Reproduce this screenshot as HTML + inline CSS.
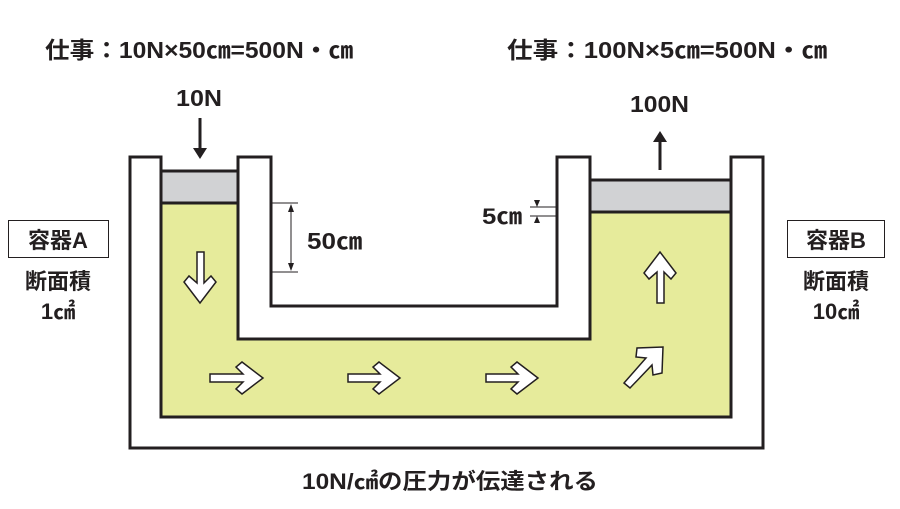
<!DOCTYPE html>
<html><head><meta charset="utf-8"><style>
html,body{margin:0;padding:0;background:#fff;}
svg{display:block;}
text{font-family:"Liberation Sans","Noto Sans CJK JP",sans-serif;font-weight:bold;fill:#231f20;}
</style></head><body>
<svg width="900" height="509" viewBox="0 0 900 509" xmlns="http://www.w3.org/2000/svg">
<!-- top labels -->
<text x="45" y="58" font-size="23" textLength="308" lengthAdjust="spacingAndGlyphs">仕事：10N×50㎝=500N・㎝</text>
<text x="507" y="58" font-size="23" textLength="320" lengthAdjust="spacingAndGlyphs">仕事：100N×5㎝=500N・㎝</text>
<text x="176" y="106" font-size="23" textLength="46" lengthAdjust="spacingAndGlyphs">10N</text>
<text x="630" y="112" font-size="23" textLength="59" lengthAdjust="spacingAndGlyphs">100N</text>
<!-- force arrows -->
<line x1="200" y1="118" x2="200" y2="152" stroke="#231f20" stroke-width="3"/>
<path d="M193,148 L207,148 L200,159 z" fill="#231f20"/>
<line x1="660" y1="170" x2="660" y2="138" stroke="#231f20" stroke-width="3"/>
<path d="M653,142 L667,142 L660,131 z" fill="#231f20"/>
<!-- liquid -->
<polygon points="161,203 238,203 238,339 590,339 590,212 731,212 731,417 161,417" fill="#e6eb9b"/>
<!-- pistons -->
<rect x="161" y="171" width="77" height="32" fill="#d1d2d4" stroke="#231f20" stroke-width="3"/>
<rect x="590" y="180" width="141" height="32" fill="#d1d2d4" stroke="#231f20" stroke-width="3"/>
<!-- vessel outline -->
<polygon points="130,157 161,157 161,417 731,417 731,157 763,157 763,448 130,448" fill="#fff" stroke="#231f20" stroke-width="3"/>
<polygon points="238,157 271,157 271,306 557,306 557,157 590,157 590,339 238,339" fill="#fff" stroke="#231f20" stroke-width="3"/>
<!-- dimension 50cm -->
<line x1="271" y1="203" x2="298" y2="203" stroke="#231f20" stroke-width="1"/>
<line x1="271" y1="272" x2="298" y2="272" stroke="#231f20" stroke-width="1"/>
<line x1="291" y1="205" x2="291" y2="270" stroke="#231f20" stroke-width="1"/>
<path d="M288,212 L294,212 L291,204 z M288,263 L294,263 L291,271 z" fill="#231f20"/>
<text x="307" y="249" font-size="23" textLength="55" lengthAdjust="spacingAndGlyphs">50㎝</text>
<!-- dimension 5cm -->
<line x1="530" y1="207" x2="557" y2="207" stroke="#231f20" stroke-width="1"/>
<line x1="530" y1="216" x2="557" y2="216" stroke="#231f20" stroke-width="1"/>
<path d="M534,200 L540,200 L537,207 z M534,223 L540,223 L537,216 z" fill="#231f20"/>
<text x="482" y="224" font-size="22" textLength="40" lengthAdjust="spacingAndGlyphs">5㎝</text>
<!-- flow arrows -->
<g fill="#fff" stroke="#231f20" stroke-width="1.5">
<path d="M197,252 L204,252 L204,283 L211,276 L216,282 L200,303 L184,282 L189,276 L197,283 z"/>
<path d="M210,374 L243,374 L236,367 L242,362 L263,378 L242,394 L236,389 L243,382 L210,382 z"/>
<path d="M348,374 L380,374 L373,367 L379,362 L400,378 L379,394 L373,389 L380,382 L348,382 z"/>
<path d="M486,374 L518,374 L511,367 L517,362 L538,378 L517,394 L511,389 L518,382 L486,382 z"/>
<path d="M657,303 L664,303 L664,272 L671,279 L676,273 L660,252 L644,273 L649,279 L657,272 z"/>
<path d="M624,383 L630,388 L652,365 L653,375 L662,373 L663,347 L637,348 L636,357 L646,358 z"/>
</g>
<!-- side labels -->
<rect x="8.5" y="220.5" width="100" height="37" fill="#fff" stroke="#231f20" stroke-width="1"/>
<text x="58" y="248" font-size="22" text-anchor="middle">容器A</text>
<text x="58" y="289" font-size="22" text-anchor="middle">断面積</text>
<text x="58" y="319" font-size="22" text-anchor="middle">1㎠</text>
<rect x="787.5" y="220.5" width="97" height="37" fill="#fff" stroke="#231f20" stroke-width="1"/>
<text x="836" y="248" font-size="22" text-anchor="middle">容器B</text>
<text x="836" y="289" font-size="22" text-anchor="middle">断面積</text>
<text x="836" y="319" font-size="22" text-anchor="middle">10㎠</text>
<!-- bottom -->
<text x="450" y="489" font-size="22" text-anchor="middle" textLength="296" lengthAdjust="spacingAndGlyphs">10N/㎠の圧力が伝達される</text>
</svg>
</body></html>
